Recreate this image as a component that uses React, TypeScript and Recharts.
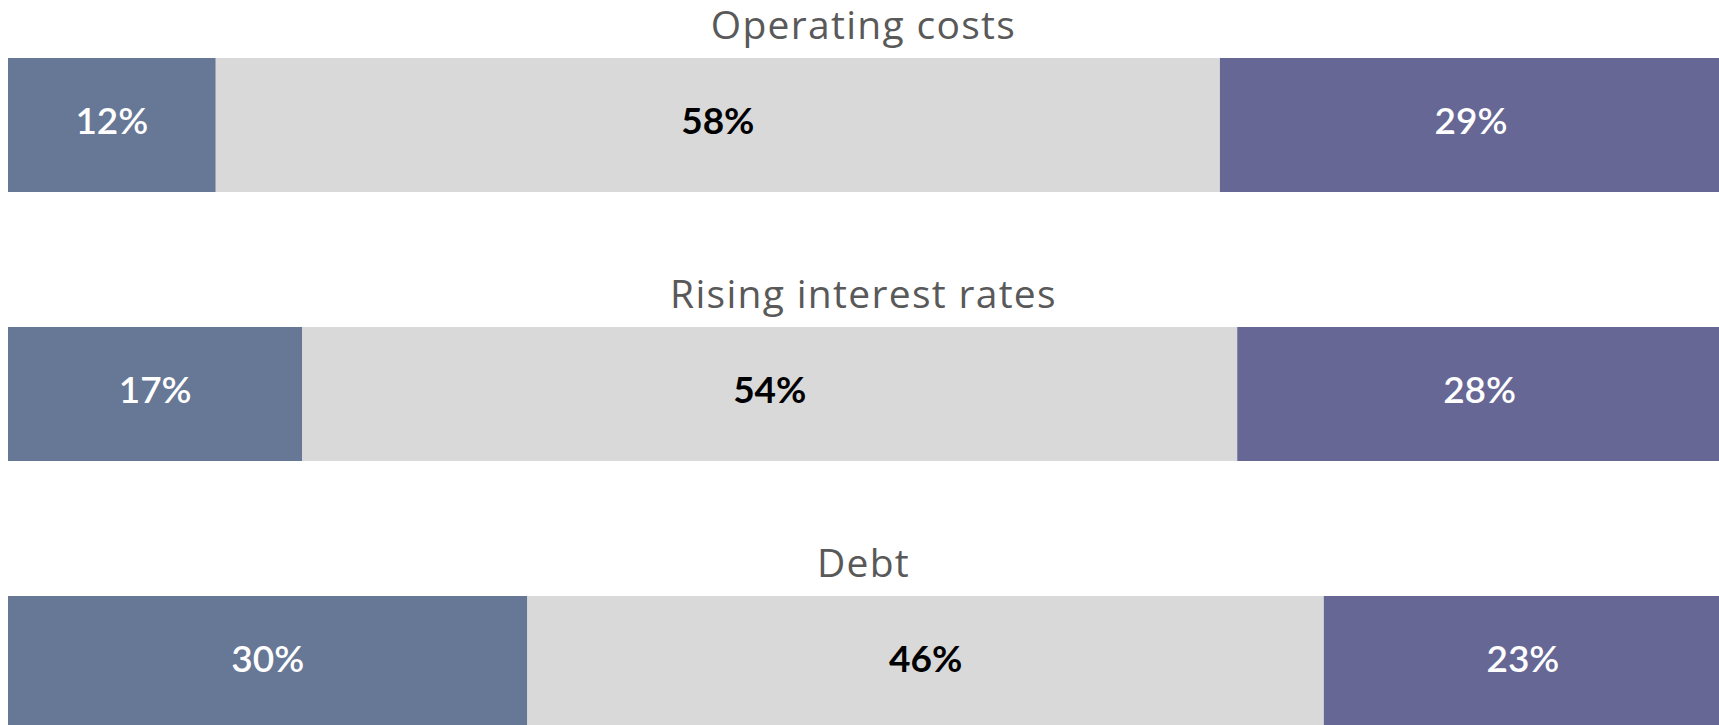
import { Bar, BarChart, LabelList, XAxis, YAxis } from "recharts";

const categories = ["Operating costs", "Rising interest rates", "Debt"];
const lowShare = [12, 17, 30];
const midShare = [58, 54, 46];
const highShare = [29, 28, 23];

const rows = categories.map((name, i) => ({
  name,
  low: lowShare[i],
  mid: midShare[i],
  high: highShare[i],
}));

const FONT = "Lato, 'Open Sans', sans-serif";
const TITLE_FONT = "'Open Sans', Lato, sans-serif";
const PLOT_LEFT = 8;
const PLOT_WIDTH = 1714;

// category title drawn above each row, centred on the visible plot
function RowTitle(props: any) {
  const { y, value } = props;
  return (
    <text
      x={PLOT_LEFT + 1711 / 2}
      y={y - 19}
      textAnchor="middle"
      fill="#595959"
      fontSize={39}
      letterSpacing={1.3}
      fontFamily={TITLE_FONT}
    >
      {value}
    </text>
  );
}

const pct = (v: any) => `${v}%`;

export default function App() {
  return (
    <div
      style={{
        position: "fixed",
        left: 0,
        top: 0,
        width: 1719,
        height: 725,
        overflow: "hidden",
        background: "#fff",
      }}
    >
      <div style={{ position: "absolute", left: 0, top: -10 }}>
        <BarChart
          width={PLOT_LEFT + PLOT_WIDTH}
          height={807}
          data={rows}
          layout="vertical"
          margin={{ top: 0, right: 0, bottom: 0, left: PLOT_LEFT }}
          barSize={134}
        >
          <XAxis type="number" hide domain={[0, "dataMax"]} />
          <YAxis type="category" dataKey="name" hide />
          <Bar dataKey="low" stackId="s" fill="#677796" isAnimationActive={false}>
            <LabelList
              dataKey="low"
              position="center"
              formatter={pct}
              fill="#ffffff"
              fontSize={37}
              fontWeight={600}
              fontFamily={FONT}
              dy={-4}
            />
            <LabelList dataKey="name" content={<RowTitle />} />
          </Bar>
          <Bar dataKey="mid" stackId="s" fill="#d9d9d9" isAnimationActive={false}>
            <LabelList
              dataKey="mid"
              position="center"
              formatter={pct}
              fill="#000000"
              fontSize={37}
              fontWeight={700}
              fontFamily={FONT}
              dy={-4}
            />
          </Bar>
          <Bar dataKey="high" stackId="s" fill="#676796" isAnimationActive={false}>
            <LabelList
              dataKey="high"
              position="center"
              formatter={pct}
              fill="#ffffff"
              fontSize={37}
              fontWeight={600}
              fontFamily={FONT}
              dy={-4}
            />
          </Bar>
        </BarChart>
      </div>
    </div>
  );
}
